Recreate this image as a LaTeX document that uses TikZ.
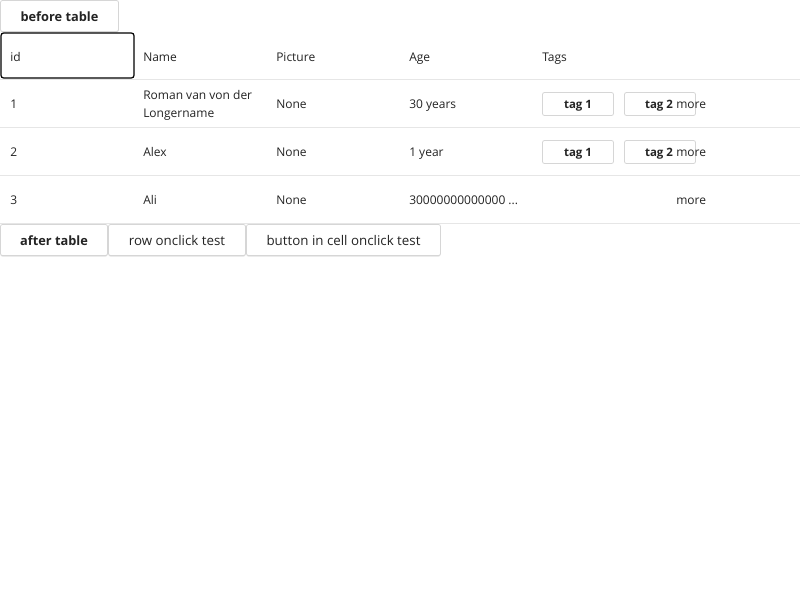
\documentclass[tikz,border=0pt]{standalone}
\usepackage{fontspec}
\setmainfont{Open Sans}
\usetikzlibrary{shadows}
\definecolor{txt}{HTML}{242424}
\definecolor{sep}{HTML}{E6E6E6}
\definecolor{btnb}{HTML}{D6D6D6}
\begin{document}
\begin{tikzpicture}[x=0.75pt,y=-0.75pt,
  cell/.style={anchor=base west,inner sep=0pt,text=txt,font=\fontsize{9}{13.5}\selectfont},
  btn/.style={draw=btnb,fill=white,rounded corners=1.5pt,line width=0.6pt,inner sep=0pt,text=txt,
     font=\fontsize{10}{12}\selectfont,
     drop shadow={shadow xshift=0pt,shadow yshift=-0.8pt,opacity=0.12,fill=black}},
  bbtn/.style={btn,font=\fontsize{9.6}{12}\selectfont\bfseries},
  blabel/.style={anchor=base,inner sep=0pt,text=txt},
  tagbtn/.style={draw=btnb,fill=white,rounded corners=1.5pt,line width=0.6pt,inner sep=0pt,text=txt,
     font=\fontsize{8.6}{10}\selectfont\bfseries},
  rowline/.style={draw=sep,line width=0.75pt}]
\useasboundingbox[fill=white] (0,0) rectangle (800,600);
% top button
\node[bbtn,minimum width=118*0.75pt,minimum height=31*0.75pt] (before) at (59.5,16) {};
\node[blabel,font=\fontsize{9.6}{12}\selectfont\bfseries] (beforel) at (59.5,21) {before table};
% header
\node[draw=black,line width=0.9pt,rounded corners=2pt,minimum width=133*0.75pt,minimum height=45*0.75pt,inner sep=0pt] (idbox) at (67.5,55.5) {};
\node[cell] (hid) at (10,61.5) {id};
\node[cell] (hname) at (143,61.5) {Name};
\node[cell] (hpic) at (276,61.5) {Picture};
\node[cell] (hage) at (409,61.5) {Age};
\node[cell] (htags) at (542,61.5) {Tags};
% separators
\coordinate (l1a) at (0,79.5); \coordinate (l1b) at (800,79.5);
\coordinate (l2a) at (0,127.5); \coordinate (l2b) at (800,127.5);
\coordinate (l3a) at (0,175.5); \coordinate (l3b) at (800,175.5);
\coordinate (l4a) at (0,223.5); \coordinate (l4b) at (800,223.5);
\draw[rowline] (l1a) -- (l1b);
\draw[rowline] (l2a) -- (l2b);
\draw[rowline] (l3a) -- (l3b);
\draw[rowline] (l4a) -- (l4b);
% row 1
\node[cell] (r1id) at (10,108.5) {1};
\node[cell,anchor=west,align=left] (r1name) at (143,105) {Roman van von der\\Longername};
\node[cell] (r1pic) at (276,108.5) {None};
\node[cell] (r1age) at (409,108.5) {30 years};
\node[tagbtn,minimum width=71*0.75pt,minimum height=23*0.75pt] (r1t1) at (578,104) {};
\node[tagbtn,minimum width=71*0.75pt,minimum height=23*0.75pt] (r1t2) at (660,104) {};
\node[tagbtn,draw=none,fill=none,anchor=base] (r1t1l) at (578,108.5) {tag 1};
\node[tagbtn,draw=none,fill=none,anchor=base] (r1t2l) at (659,108.5) {tag 2};
\node[cell] (r1more) at (676,108.5) {more};
% row 2
\node[cell] (r2id) at (10,156.5) {2};
\node[cell] (r2name) at (143,156.5) {Alex};
\node[cell] (r2pic) at (276,156.5) {None};
\node[cell] (r2age) at (409,156.5) {1 year};
\node[tagbtn,minimum width=71*0.75pt,minimum height=23*0.75pt] (r2t1) at (578,152) {};
\node[tagbtn,minimum width=71*0.75pt,minimum height=23*0.75pt] (r2t2) at (660,152) {};
\node[tagbtn,draw=none,fill=none,anchor=base] (r2t1l) at (578,156.5) {tag 1};
\node[tagbtn,draw=none,fill=none,anchor=base] (r2t2l) at (659,156.5) {tag 2};
\node[cell] (r2more) at (676,156.5) {more};
% row 3
\node[cell] (r3id) at (10,204.5) {3};
\node[cell] (r3name) at (143,204.5) {Ali};
\node[cell] (r3pic) at (276,204.5) {None};
\node[cell] (r3age) at (409,204.5) {30000000000000 ...};
\node[cell] (r3more) at (676,204.5) {more};
% bottom buttons
\node[bbtn,minimum width=107*0.75pt,minimum height=31*0.75pt] (after) at (54,240) {};
\node[blabel,font=\fontsize{9.6}{12}\selectfont\bfseries] (afterl) at (54,245) {after table};
\node[btn,minimum width=137*0.75pt,minimum height=31*0.75pt] (rowtest) at (177,240) {};
\node[blabel,font=\fontsize{10}{12}\selectfont] (rowtestl) at (177,245) {row onclick test};
\node[btn,minimum width=194*0.75pt,minimum height=31*0.75pt] (celltest) at (343.5,240) {};
\node[blabel,font=\fontsize{10}{12}\selectfont] (celltestl) at (343.5,245) {button in cell onclick test};
\end{tikzpicture}
\end{document}
